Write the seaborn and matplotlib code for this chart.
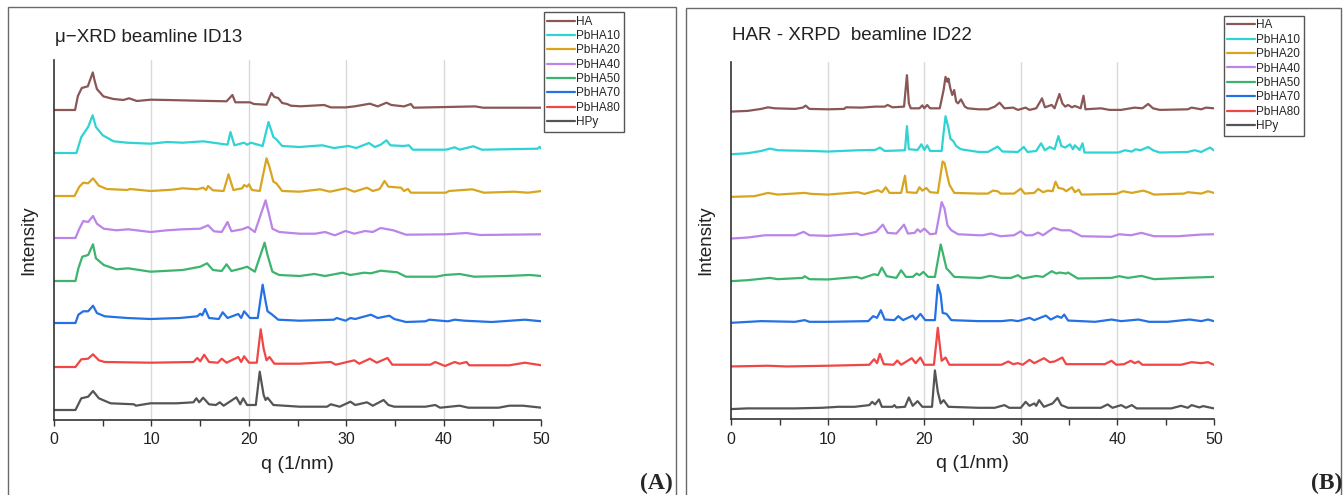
import numpy as np
import pandas as pd
import matplotlib
matplotlib.use('Agg')
import matplotlib.pyplot as plt
import seaborn as sns
from matplotlib.patches import Rectangle
from matplotlib.ticker import MultipleLocator

# sample names, colours and stacking offsets (same for both panels)
names = ['HA', 'PbHA10', 'PbHA20', 'PbHA40', 'PbHA50', 'PbHA70', 'PbHA80', 'HPy']
colors = ['#8a5656', '#2fd3d3', '#d9a520', '#bb84e8', '#3cb46e', '#2471e6', '#f04646', '#555555']
offsets = [310, 267, 224, 182, 139, 97, 53, 10]

# ---- panel A : mu-XRD beamline ID13, (q, intensity above baseline) ----
a_ha = [(0, 0), (2.16, 0), (2.45, 14), (2.85, 22), (3.47, 23.7), (3.98, 37.6), (4.15, 30), (4.4, 21),
        (5.07, 13.6), (6.1, 11), (7.1, 10), (7.7, 11.7), (8.5, 9), (9.9, 10.3), (11.6, 10), (14.7, 9.3),
        (17.7, 8.7), (18.3, 15), (18.6, 7.7), (20.1, 7.7), (20.5, 6), (21.8, 5.3), (22.3, 17), (22.6, 13),
        (23.0, 12), (23.4, 7), (23.9, 6), (24.3, 4.3), (25.3, 3.7), (27.7, 5), (28.4, 2.6), (29.9, 2.6),
        (30.8, 3.6), (32.4, 6.3), (33.2, 3.6), (34.1, 7.3), (34.6, 5), (35.9, 3.6), (36.6, 6), (36.9, 2.3),
        (43.2, 3.6), (44.0, 2.3), (50, 2.3)]
a_pbha10 = [(0, 0), (2.3, 0), (2.8, 16), (3.5, 26), (3.96, 37.7), (4.3, 26), (5.0, 17.7), (6.1, 11.7),
            (7.5, 10.3), (9.9, 9.3), (11.6, 11), (13.2, 10.3), (15.3, 11.7), (17.8, 8.3), (18.1, 21),
            (18.5, 7.7), (19.5, 10.3), (19.8, 8.3), (20.2, 10.3), (21.4, 7), (22.0, 31), (22.5, 16),
            (22.8, 13.7), (23.4, 7), (25.2, 6), (27.5, 7.7), (28.7, 5), (30.2, 7), (31.0, 5), (32.3, 10),
            (32.9, 6), (33.5, 8.3), (34.1, 12.7), (34.5, 7.7), (35.8, 7), (36.4, 7.7), (36.8, 3.3),
            (40.2, 3.3), (41.1, 5.7), (41.6, 3.3), (43.0, 6.7), (43.9, 3.3), (49.6, 4.3), (49.8, 6), (50, 4.3)]
a_pbha20 = [(0, 0), (2.1, 0), (2.6, 9.3), (3.0, 13.3), (3.5, 12.7), (4.0, 17.7), (4.6, 10.3), (5.4, 7),
            (7.5, 6), (7.8, 7), (9.9, 5), (12.1, 6.3), (13.2, 7.7), (14.7, 6.7), (15.3, 8.3), (15.6, 6),
            (15.8, 10), (16.3, 5.7), (17.4, 5), (17.9, 21.7), (18.4, 6), (19.3, 7.7), (19.5, 11), (19.8, 9.3),
            (20.0, 11.7), (20.3, 6), (21.1, 5), (21.8, 37.7), (22.1, 29), (22.5, 14.3), (22.8, 12.7),
            (23.4, 5), (25.2, 4.3), (27.3, 6.7), (28.3, 4.3), (29.9, 7.7), (30.8, 4.3), (32.1, 8.3),
            (32.7, 5), (33.4, 7), (33.9, 15), (34.3, 9.3), (35.6, 8.3), (35.9, 5), (36.3, 7), (36.6, 3.3),
            (40.2, 3.3), (40.5, 5), (42.9, 6.7), (44.1, 3.3), (47.2, 4.3), (48.6, 3.3), (50, 5)]
a_pbha40 = [(0, 0), (2.2, 0), (2.6, 9.3), (3.0, 17), (3.5, 16), (4.0, 22), (4.4, 14.3), (5.1, 9.3),
            (6.4, 7.7), (7.6, 8.7), (9.9, 6), (11.6, 7.7), (13.2, 8.7), (15.0, 9.3), (15.8, 12.7),
            (16.4, 6.7), (17.2, 6), (17.8, 16), (18.2, 6.7), (19.3, 8.7), (19.9, 11), (20.6, 6),
            (21.7, 37.7), (22.0, 26), (22.4, 9.3), (23.1, 6), (25.2, 4.3), (26.8, 4.3), (27.8, 6),
            (28.8, 2.7), (29.9, 7), (30.8, 4.3), (31.9, 7), (32.7, 6), (33.5, 10), (34.8, 7.7), (36.1, 3.3),
            (40.2, 3.7), (42.3, 5), (43.7, 3), (50, 3.7)]
a_pbha50 = [(0, 0), (2.2, 0), (2.5, 12.7), (2.9, 24.3), (3.5, 26), (4.0, 36.7), (4.3, 22.7), (5.1, 16),
            (6.4, 11.7), (7.6, 12.7), (9.9, 9.3), (13.2, 11), (15.0, 14.3), (15.7, 17.7), (16.3, 11),
            (17.2, 10), (17.7, 16.7), (18.2, 10), (19.3, 12.7), (19.8, 14.3), (20.6, 9.3), (21.6, 38.3),
            (21.9, 26), (22.4, 9.3), (23.1, 6), (25.2, 5), (26.7, 7), (27.8, 5), (29.6, 8.3), (30.4, 6),
            (31.8, 8.3), (32.5, 7.7), (33.5, 10.3), (35.2, 8.7), (36.1, 4.3), (39.2, 4.3), (40.1, 6),
            (41.6, 7), (43.1, 4.3), (46.4, 5), (48.8, 6), (50, 5)]
a_pbha70 = [(0, 0), (2.2, 0), (2.5, 8.3), (3.0, 11.7), (3.5, 11.7), (4.0, 17.3), (4.4, 10), (5.2, 6.7),
            (7.5, 5), (9.9, 4), (12.9, 5), (14.7, 6.7), (15.0, 9.3), (15.2, 7.7), (15.5, 14), (15.9, 5),
            (16.9, 4), (17.3, 10.7), (17.8, 5), (18.9, 9), (19.2, 5), (19.5, 11.7), (20.1, 5), (20.9, 5),
            (21.4, 38.3), (21.7, 21.7), (21.9, 11.7), (22.3, 9), (23.0, 3.3), (25.2, 2.3), (28.7, 3.3),
            (29.0, 5), (29.9, 2.3), (30.4, 5), (30.9, 4), (32.5, 8.3), (33.2, 5), (34.4, 7.3), (34.9, 4),
            (36.1, 1), (38.1, 1.7), (38.5, 3.3), (40.4, 1.7), (41.1, 3.3), (42.1, 2.3), (44.9, 1),
            (48.3, 3.3), (50, 1.7)]
a_pbha80 = [(0, 0), (2.2, 0), (2.8, 7.7), (3.5, 8.3), (4.0, 12.7), (4.6, 6.7), (5.2, 5), (9.9, 4.3),
            (14.3, 5), (14.7, 9), (15.0, 5.7), (15.4, 12.3), (15.9, 5), (16.8, 4.3), (17.2, 8.3),
            (17.7, 4.3), (18.9, 10), (19.2, 5), (19.5, 10.7), (20.0, 4.3), (20.8, 4.3), (21.2, 37.7),
            (21.5, 18.3), (21.8, 6.7), (22.1, 10), (22.6, 3.3), (25.2, 3.3), (28.4, 5), (28.9, 2.3),
            (30.8, 6.7), (31.3, 3.3), (32.4, 8.3), (33.1, 4.3), (34.2, 9), (34.7, 2.3), (38.6, 2.3),
            (39.1, 5), (40.1, 1), (41.1, 5), (41.6, 3.3), (42.3, 5), (42.6, 1.7), (46.7, 1.7), (48.3, 4.3),
            (50, 1.7)]
a_hpy = [(0, 0), (2.2, 0), (2.8, 11.7), (3.5, 13.3), (4.0, 19), (4.6, 11.7), (5.8, 6.7), (8.2, 5.7),
         (8.4, 4.3), (9.9, 6.7), (12.6, 6.7), (14.3, 7.7), (14.6, 11.7), (14.9, 7.7), (15.3, 12.3),
         (15.9, 5.7), (16.6, 5), (17.0, 7.7), (17.4, 4.3), (18.7, 12.7), (19.1, 5.7), (19.4, 11.7),
         (19.8, 5), (20.7, 5), (21.1, 38.3), (21.5, 15), (21.7, 10), (21.9, 12.3), (22.5, 5), (25.2, 3.3),
         (28.0, 3.3), (28.4, 5.7), (29.3, 3.3), (30.4, 8.3), (30.9, 5), (32.1, 7.7), (32.7, 4.3),
         (33.8, 10), (34.3, 5), (34.9, 3.3), (38.1, 3.3), (39.1, 5), (39.6, 2.3), (41.6, 4.3), (42.5, 2.3),
         (45.6, 2.3), (46.7, 4.3), (48.1, 4.3), (50, 2.3)]

# ---- panel B : HAR-XRPD beamline ID22 ----
b_ha = [(0, 0), (1.7, 0.7), (3.1, 2.7), (3.8, 4.3), (4.5, 3.3), (6.6, 2.7), (7.4, 4), (7.7, 6), (8.1, 2.7),
        (10.0, 2.3), (11.7, 2.7), (11.9, 4.3), (13.5, 4), (14.9, 5), (15.9, 5), (16.2, 6.7), (16.7, 4.3),
        (17.9, 5), (18.2, 36.7), (18.4, 8.3), (18.6, 3.3), (19.5, 3.3), (19.8, 6.3), (20.0, 3.3),
        (20.3, 6.7), (20.6, 3.3), (21.6, 3.3), (22.0, 21.7), (22.2, 35), (22.4, 30), (22.5, 33.3),
        (22.7, 23.3), (22.9, 16.7), (23.1, 21.7), (23.3, 10), (23.5, 8.3), (23.8, 12.3), (24.2, 5),
        (24.5, 3.3), (25.6, 2.3), (26.6, 2.3), (27.3, 5), (27.8, 9), (28.3, 3.3), (29.2, 4), (29.7, 1.7),
        (30.5, 4), (30.9, 1.7), (31.6, 3.3), (32.2, 13.3), (32.5, 4.3), (33.2, 6.7), (33.5, 3.3),
        (34.0, 17.7), (34.3, 8.3), (34.6, 5), (34.9, 6.7), (35.3, 4.3), (35.6, 5.7), (36.2, 3.3),
        (36.5, 16), (36.7, 2.3), (38.3, 3.3), (39.2, 1.7), (40.4, 1.7), (41.8, 4), (42.6, 3.3), (43.2, 7.7),
        (43.7, 3.3), (44.4, 1.7), (47.3, 2.3), (47.7, 4), (48.7, 2.3), (49.2, 4), (50, 3.3)]
b_pbha10 = [(0, 0), (1.7, 1), (3.1, 3.3), (4.0, 5.7), (4.8, 4), (8.3, 3.3), (10.0, 2.7), (13.1, 4),
            (14.9, 4.3), (15.4, 6.7), (15.9, 3.3), (18.0, 4), (18.2, 28.3), (18.4, 5), (19.3, 4.3),
            (19.7, 10), (20.0, 4.3), (20.3, 9), (20.6, 3.3), (21.8, 3.3), (22.0, 21.7), (22.2, 38.3),
            (22.5, 26.7), (22.7, 15.7), (23.0, 13.3), (23.3, 8.3), (23.8, 5), (25.6, 2.3), (26.6, 2.3),
            (27.6, 7.7), (28.1, 2.7), (29.7, 2.3), (30.3, 7.3), (30.7, 2.3), (31.6, 3.3), (32.1, 11),
            (32.5, 4), (33.0, 7.3), (33.5, 5), (33.9, 18.3), (34.2, 8.3), (34.6, 6.7), (35.1, 10), (35.4, 5),
            (35.6, 9), (36.1, 4.3), (36.4, 11), (36.6, 1.7), (40.1, 1.7), (40.8, 4), (41.5, 2.7), (41.9, 5),
            (42.4, 4), (43.2, 7.3), (43.7, 4), (44.4, 1.7), (47.3, 2.3), (48.0, 4), (48.7, 2.3), (49.6, 6.7),
            (50, 4)]
b_pbha20 = [(0, 0), (2.4, 0.7), (3.8, 4), (4.8, 2.3), (7.6, 4), (8.3, 3), (10.0, 2.3), (13.1, 4.7),
            (13.8, 3), (15.2, 6.7), (15.6, 4.7), (16.0, 9.7), (16.4, 4), (17.6, 4), (18.0, 21.3), (18.2, 4.7),
            (19.2, 4), (19.5, 9.7), (19.8, 6.3), (20.2, 9), (20.6, 4.7), (21.4, 4), (21.9, 35.7), (22.1, 34),
            (22.4, 20.7), (22.6, 12.3), (23.1, 4), (25.6, 3.3), (26.6, 3.3), (27.1, 6.3), (27.6, 5.7),
            (27.9, 3.3), (29.3, 3.3), (30.0, 8.3), (30.4, 3.3), (31.4, 4), (31.8, 8), (32.3, 4.7), (32.8, 6.3),
            (33.3, 5.7), (33.6, 15.3), (33.9, 9), (34.4, 8), (34.7, 5.7), (35.3, 9.7), (35.6, 4.7), (36.0, 7.3),
            (36.3, 2.3), (39.9, 3), (40.6, 5.7), (41.5, 4), (42.7, 6.3), (43.2, 4.7), (43.8, 2.3), (46.9, 3.3),
            (47.3, 4.7), (48.7, 3.3), (49.4, 5.7), (50, 4)]
b_pbha40 = [(0, 0), (1.7, 1), (3.5, 3.3), (6.6, 3.3), (7.5, 6.7), (8.1, 3.3), (10.0, 2.7), (13.0, 5),
            (13.5, 3.3), (15.0, 6.7), (15.7, 14), (16.2, 5.7), (17.1, 5), (17.9, 14), (18.3, 5), (19.0, 5.7),
            (19.3, 9.3), (19.6, 6.7), (20.0, 10), (20.6, 4.3), (21.2, 5), (21.8, 36.7), (22.1, 30),
            (22.4, 13.3), (22.8, 8.3), (23.5, 4.3), (25.6, 3.3), (26.1, 3.3), (26.9, 5), (27.9, 2.3),
            (29.3, 3.3), (30.0, 7.3), (30.5, 3.3), (31.2, 3.3), (31.8, 6), (32.3, 3.3), (33.4, 10.7),
            (34.2, 8.3), (35.1, 8.3), (36.3, 2.3), (39.4, 1.7), (40.2, 4.3), (41.4, 3.3), (42.5, 5.7),
            (43.8, 2.3), (46.3, 2.3), (48.7, 4), (50, 4.3)]
b_pbha50 = [(0, 0), (1.7, 1), (4.0, 3.3), (4.8, 2), (7.4, 3.3), (7.6, 5), (8.1, 2), (10.0, 1.7), (13.0, 4.3),
            (13.5, 2.7), (14.8, 7), (15.2, 6), (15.6, 13.7), (16.1, 5), (17.1, 3.3), (17.6, 11), (18.1, 4.3),
            (18.8, 4.3), (19.2, 7.7), (19.5, 6), (19.9, 9.3), (20.4, 4.3), (21.1, 4.3), (21.7, 37),
            (21.9, 29.3), (22.3, 12.7), (22.5, 11), (23.1, 4.3), (25.6, 3.3), (25.9, 3.3), (26.8, 5.3),
            (28.0, 3.3), (29.0, 3.3), (29.7, 6), (30.2, 2.7), (31.6, 5.3), (32.3, 4.3), (33.2, 10), (33.7, 7.7),
            (34.0, 8.7), (34.7, 7.7), (34.9, 8.7), (35.9, 2.7), (39.4, 3.3), (40.2, 5), (41.1, 3.3),
            (42.5, 5.3), (43.8, 2), (46.9, 3.3), (50, 4.3)]
b_pbha70 = [(0, 0), (3.1, 1.7), (6.6, 1), (7.6, 2.7), (8.1, 1), (10.0, 1), (14.2, 1.7), (14.7, 6.7),
            (15.1, 5), (15.5, 12.7), (15.9, 3.3), (16.9, 2.7), (17.3, 6.7), (17.8, 2.7), (18.8, 7.3),
            (19.1, 3.3), (19.6, 9), (20.1, 2.7), (21.1, 2.7), (21.4, 38.3), (21.7, 28.3), (21.9, 10),
            (22.3, 9), (22.8, 2.7), (25.6, 1.7), (28.0, 1.7), (29.0, 2.7), (29.7, 1.7), (30.9, 5), (31.4, 2.7),
            (32.6, 7.3), (33.1, 3.3), (33.8, 6.7), (34.2, 5), (34.5, 8.3), (34.9, 2.3), (37.7, 1), (39.4, 3.3),
            (40.4, 1.7), (42.2, 3.3), (43.3, 1), (45.2, 1), (47.5, 3.3), (48.7, 1.7), (49.4, 3.3), (50, 1.7)]
b_pbha80 = [(0, 0), (3.8, 0.7), (5.7, 0), (10.0, 0.7), (14.3, 1.7), (14.8, 7.3), (15.1, 3.3), (15.4, 12.7),
            (15.8, 2.3), (16.8, 1.7), (17.2, 6), (17.6, 1.7), (18.7, 8.3), (19.1, 3.3), (19.6, 9), (20.0, 1.7),
            (21.0, 1.7), (21.4, 39), (21.6, 21.7), (21.8, 5.7), (22.2, 9), (22.6, 1.7), (25.6, 1.7),
            (28.0, 1.7), (28.7, 5), (29.2, 2.3), (29.7, 3.3), (30.2, 1.7), (30.9, 6.7), (31.4, 3.3), (32.4, 8.3),
            (33.0, 4.3), (33.5, 5), (34.3, 9), (34.7, 2.3), (38.7, 2.3), (39.4, 5.7), (39.9, 1.7), (40.7, 2.3),
            (41.4, 5.7), (41.8, 3.3), (42.2, 5), (42.6, 1.7), (46.6, 1.7), (47.7, 4.3), (48.7, 3.3),
            (49.4, 4.3), (50, 1.7)]
b_hpy = [(0, 0), (1.7, 0.7), (6.6, 0.7), (9.4, 1.3), (11.1, 2.3), (12.8, 2.3), (14.3, 4), (14.6, 7.3),
         (14.9, 4.7), (15.3, 9.7), (15.6, 2.3), (16.7, 2.3), (16.9, 4), (17.1, 1.7), (18.0, 2.3), (18.4, 11.7),
         (18.8, 3.3), (19.3, 8), (19.8, 2.3), (20.8, 2.3), (21.1, 39), (21.4, 17.3), (21.7, 5.7), (22.0, 9),
         (22.5, 2.3), (25.6, 1.3), (27.3, 1.3), (28.3, 4), (28.8, 1.3), (30.0, 1.3), (30.5, 7.3), (30.9, 3.3),
         (31.4, 5.7), (31.6, 3.3), (31.9, 9), (32.4, 2.3), (33.3, 5.7), (33.8, 11.3), (34.2, 4), (34.9, 1.3),
         (38.3, 1.3), (39.0, 4.7), (39.5, 1.3), (40.4, 4), (40.9, 1.3), (41.5, 4), (42.0, 0.7), (45.6, 0.7),
         (46.6, 3.3), (47.3, 1.3), (47.7, 4), (48.5, 1.7), (48.9, 3), (50, 0.7)]

curves_a = [a_ha, a_pbha10, a_pbha20, a_pbha40, a_pbha50, a_pbha70, a_pbha80, a_hpy]
curves_b = [b_ha, b_pbha10, b_pbha20, b_pbha40, b_pbha50, b_pbha70, b_pbha80, b_hpy]


def to_frame(curves):
    rows = []
    for name, pts, off in zip(names, curves, offsets):
        for q, h in pts:
            rows.append((name, q, h + off))
    return pd.DataFrame(rows, columns=['sample', 'q', 'intensity'])


sns.set_theme(style='white')
plt.rcParams['font.family'] = ['Liberation Sans', 'DejaVu Sans']

W, H = 1343, 495
fig = plt.figure(figsize=(W / 100, H / 100), dpi=100)

# frames around the two panels
fig.add_artist(Rectangle((8 / W, -0.05), (676 - 8) / W, 1.05 - 7 / H, transform=fig.transFigure,
                         fill=False, ec='#6a6a6a', lw=1))
fig.add_artist(Rectangle((686 / W, -0.05), (1341 - 686) / W, 1.05 - 8 / H, transform=fig.transFigure,
                         fill=False, ec='#6a6a6a', lw=1))

ax_a = fig.add_axes([54 / W, 1 - 420 / H, 487.5 / W, 360 / H])
ax_b = fig.add_axes([731.3 / W, 1 - 419 / H, 482.5 / W, 357 / H])

panels = [
    (ax_a, curves_a, '\u03bc\u2212XRD beamline ID13', 1.0625, (1.005, 1.133)),
    (ax_b, curves_b, 'HAR - XRPD  beamline ID22', 1.0756, (1.021, 1.129)),
]

for ax, curves, title, title_y, leg_anchor in panels:
    df = to_frame(curves)
    sns.lineplot(data=df, x='q', y='intensity', hue='sample', hue_order=names, palette=colors,
                 estimator=None, errorbar=None, lw=1.6, ax=ax)
    ax.set_xlim(0, 50)
    ax.set_ylim(0, 360)
    ax.set_xticks(np.arange(0, 51, 10))
    ax.xaxis.set_minor_locator(MultipleLocator(5))
    ax.set_yticks([])
    ax.grid(axis='x', color='#d9d9d9', lw=1)
    gls = ax.get_xgridlines()
    gls[0].set_visible(False)
    gls[-1].set_visible(False)
    for s in ['top', 'right']:
        ax.spines[s].set_visible(False)
    for s in ['left', 'bottom']:
        ax.spines[s].set_color('#333333')
        ax.spines[s].set_linewidth(1.2)
    ax.tick_params(axis='x', which='both', direction='out', length=4, width=1, color='#333333',
                   bottom=True, pad=5, labelsize=11.5, labelcolor='#222222')
    ax.set_xlabel('q (1/nm)', fontsize=14, labelpad=6, color='#222222')
    ax.set_ylabel('Intensity', fontsize=13.5, labelpad=12, color='#222222')
    ax.set_facecolor('none')
    ax.text(0.002, title_y, title, transform=ax.transAxes, fontsize=13.5,
            va='center', ha='left', color='#222222')
    handles, labels = ax.get_legend_handles_labels()
    leg = ax.legend(handles, labels, loc='upper left', bbox_to_anchor=leg_anchor, borderaxespad=0,
                    fontsize=8.5, frameon=True, fancybox=False, framealpha=1, edgecolor='#555555',
                    borderpad=0.3, handlelength=2.3, handletextpad=0.15, labelspacing=0.2)
    leg.get_frame().set_linewidth(1)

fig.text(673 / W, 1 - 489 / H, '(A)', ha='right', va='baseline', fontsize=17, fontweight='bold',
         family=['Liberation Serif', 'DejaVu Serif'])
fig.text(1342 / W, 1 - 489 / H, '(B)', ha='right', va='baseline', fontsize=17, fontweight='bold',
         family=['Liberation Serif', 'DejaVu Serif'])

fig.savefig('out.png', dpi=100)
